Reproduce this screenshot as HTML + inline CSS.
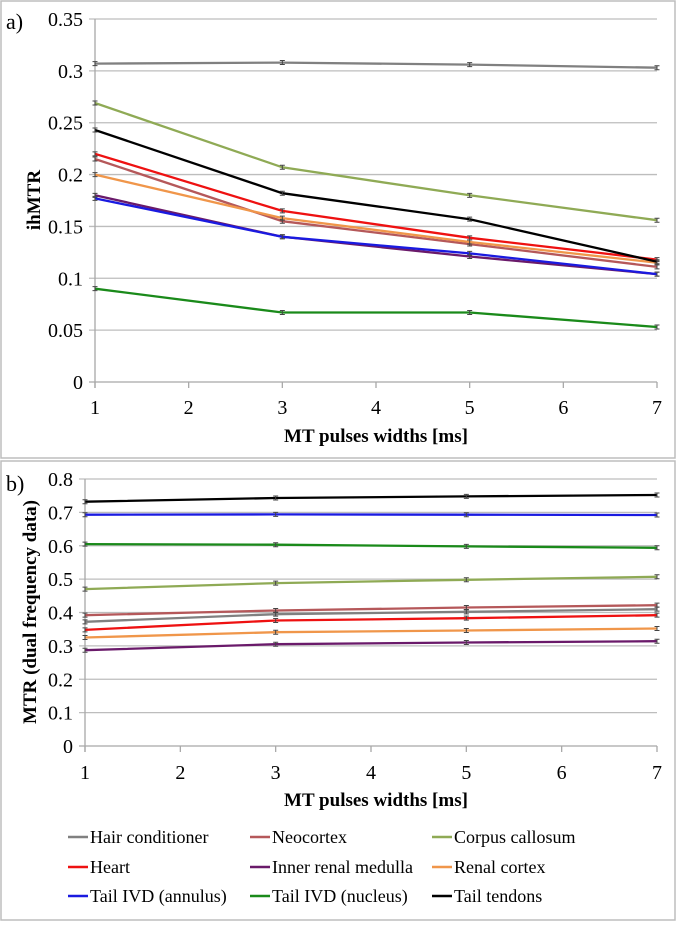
<!DOCTYPE html>
<html><head><meta charset="utf-8"><style>
html,body{margin:0;padding:0;background:#fff}
svg, svg text{font-family:"Liberation Serif","DejaVu Serif","Times New Roman",serif}
</style></head><body>
<svg id="c" width="676" height="921" font-family="Liberation Serif, DejaVu Serif, serif">
<rect x="1" y="1" width="674" height="457" fill="#fff" stroke="#bdbdbd" stroke-width="1.5"/>
<rect x="1" y="461" width="674" height="459" fill="#fff" stroke="#bdbdbd" stroke-width="1.5"/>
<text x="6" y="29" font-size="22">a)</text>
<text x="6" y="491" font-size="22">b)</text>
<text transform="translate(40,200) rotate(-90)" text-anchor="middle" font-size="19" font-weight="bold">ihMTR</text>
<text transform="translate(36,612) rotate(-90)" text-anchor="middle" font-size="19" font-weight="bold">MTR (dual frequency data)</text>
<text x="376" y="442" text-anchor="middle" font-size="19" font-weight="bold">MT pulses widths [ms]</text>
<text x="376" y="806" text-anchor="middle" font-size="19" font-weight="bold">MT pulses widths [ms]</text>
<g id="ga"></g><g id="gb"></g><g id="leg"></g>
</svg>
<script>
const xVals=[1,3,5,7];
const xTicks=[1,2,3,4,5,6,7];
const seriesNames=["Hair conditioner","Neocortex","Corpus callosum","Heart","Inner renal medulla","Renal cortex","Tail IVD (annulus)","Tail IVD (nucleus)","Tail tendons"];
const seriesColors=["#808080","#b5585a","#8faa55","#ee1111","#6a1a6a","#f0964a","#1a1ae0","#1a8a1a","#000000"];
const aHair=[0.307,0.308,0.306,0.303];
const aNeo=[0.215,0.155,0.133,0.111];
const aCorpus=[0.269,0.207,0.180,0.156];
const aHeart=[0.220,0.165,0.139,0.118];
const aInner=[0.180,0.140,0.121,0.104];
const aRenal=[0.200,0.158,0.135,0.115];
const aAnn=[0.177,0.140,0.124,0.104];
const aNuc=[0.090,0.067,0.067,0.053];
const aTend=[0.243,0.182,0.157,0.116];
const bHair=[0.372,0.395,0.402,0.410];
const bNeo=[0.392,0.406,0.415,0.422];
const bCorpus=[0.470,0.488,0.498,0.507];
const bHeart=[0.348,0.376,0.383,0.392];
const bInner=[0.287,0.305,0.310,0.314];
const bRenal=[0.325,0.341,0.346,0.352];
const bAnn=[0.693,0.694,0.693,0.692];
const bNuc=[0.605,0.603,0.598,0.594];
const bTend=[0.732,0.743,0.748,0.752];
const aTicks=["0","0.05","0.1","0.15","0.2","0.25","0.3","0.35"];
const bTicks=["0","0.1","0.2","0.3","0.4","0.5","0.6","0.7","0.8"];
const NS="http://www.w3.org/2000/svg";
function mk(p,t,at){const e=document.createElementNS(NS,t);for(const k in at)e.setAttribute(k,at[k]);p.appendChild(e);return e;}
function panel(g,pfx,series,ticks,x0,x1,y0,y1,ymax,xlabY){
 const xs=v=>x0+(v-1)/6*(x1-x0);
 const ys=v=>y0-v/ymax*(y0-y1);
 ticks.forEach(t=>{const v=parseFloat(t);const y=ys(v);
  const l=mk(g,'line',{x1:x0-6,x2:x1,y1:y,y2:y,stroke:v===0?'#a8a8a8':'#bdbdbd','stroke-width':1.3});
  
  
  const tx=mk(g,'text',{x:x0-12,y:y+7,'text-anchor':'end','font-size':20});tx.textContent=t;
  
  });
 const ax=mk(g,'line',{x1:x0,x2:x0,y1:y0+6,y2:y1,stroke:'#a8a8a8','stroke-width':1.3});
 
 
 xTicks.forEach(t=>{const x=xs(t);
  const l=mk(g,'line',{x1:x,x2:x,y1:y0,y2:y0+6,stroke:'#a8a8a8','stroke-width':1.3});
  
  
  const tx=mk(g,'text',{x:x,y:xlabY,'text-anchor':'middle','font-size':20});tx.textContent=t;
  
  });
 series.forEach((s,i)=>{
  const pts=s.map((v,j)=>xs(xVals[j]).toFixed(1)+','+ys(v).toFixed(1)).join(' ');
  const pl=mk(g,'polyline',{points:pts,fill:'none',stroke:seriesColors[i],'stroke-width':2.3});
  
  
  s.forEach((v,j)=>{const x=xs(xVals[j]),y=ys(v);
   const eb=mk(g,'path',{d:`M${x-2.5},${y-2}h5M${x},${y-2}v4M${x-2.5},${y+2}h5`,stroke:'#444','stroke-width':1,fill:'none'});
   
   });
 });
}
panel(document.getElementById('ga'),'panel-a',[aHair,aNeo,aCorpus,aHeart,aInner,aRenal,aAnn,aNuc,aTend],aTicks,95,657,382,19,0.35,414);
panel(document.getElementById('gb'),'panel-b',[bHair,bNeo,bCorpus,bHeart,bInner,bRenal,bAnn,bNuc,bTend],bTicks,85,657,746,479,0.8,779);
const leg=document.getElementById('leg');
const colX=[68,250,432],rowY=[843,873,902];
seriesNames.forEach((n,i)=>{const x=colX[i%3],y=rowY[Math.floor(i/3)];
 const l=mk(leg,'line',{x1:x,x2:x+20,y1:y-6,y2:y-6,stroke:seriesColors[i],'stroke-width':2.5});
 
 
 const t=mk(leg,'text',{x:x+22,y:y,'font-size':18});t.textContent=n;
 
 });
</script>
</body></html>
